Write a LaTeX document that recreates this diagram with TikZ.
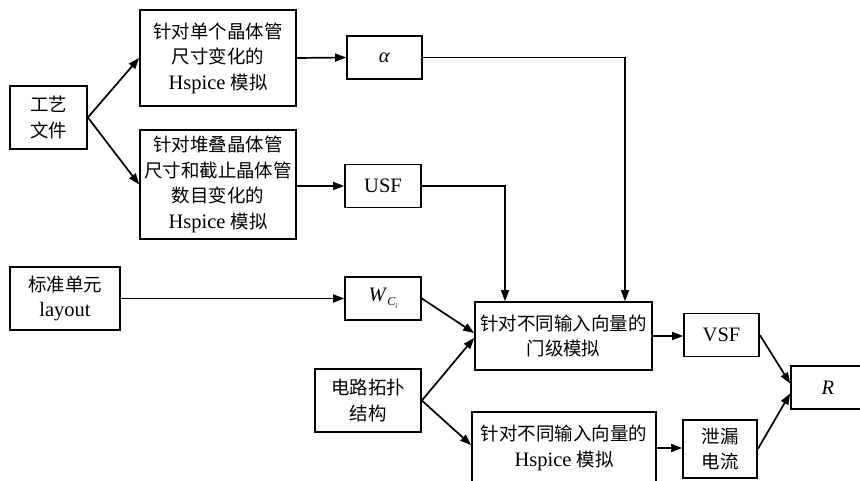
\documentclass[tikz,border=0pt]{standalone}
\usepackage{fontspec}
\setmainfont{Liberation Serif}
\newfontfamily\cjk[Scale=0.9]{Noto Sans CJK SC}
\newcommand\zh[1]{{\cjk #1}}
\usetikzlibrary{arrows.meta}
\begin{document}
\begin{tikzpicture}[x=1pt,y=-1pt,
  box/.style={draw, line width=1.7pt, inner sep=0pt, align=center,
    font=\fontsize{20.5}{25.5}\selectfont},
  arr/.style={-{Triangle[length=11pt,width=8pt]}, line width=1.7pt}]
\useasboundingbox (0,0) rectangle (860,481);
\clip (0,0) rectangle (860,481);
% nodes
\node[box, minimum width=77pt, minimum height=63pt] (gy) at (48.5,117.5) {\zh{工艺}\\\zh{文件}};
\node[box, minimum width=156pt, minimum height=96pt] (b1) at (218,58) {\zh{针对单个晶体管}\\\zh{尺寸变化的}\\Hspice \zh{模拟}};
\node[box, minimum width=156pt, minimum height=109pt] (b2) at (218,184.5) {\zh{针对堆叠晶体管}\\\zh{尺寸和截止晶体管}\\\zh{数目变化的}\\Hspice \zh{模拟}};
\node[box, minimum width=75pt, minimum height=43pt] (al) at (384.5,57.5) {\textit{α}};
\node[box, minimum width=76pt, minimum height=43pt] (usf) at (383,186) {USF};
\node[box, minimum width=110pt, minimum height=63pt] (std) at (65,298.5) {\zh{标准单元}\\layout};
\node[box, minimum width=76pt, minimum height=43pt] (w) at (383,298.5) {\textit{W}\raisebox{-4pt}{\fontsize{12}{12}\selectfont\textit{C}\raisebox{-2.5pt}{\fontsize{7}{7}\selectfont\textit{i}}}};
\node[box, minimum width=106pt, minimum height=63pt] (ckt) at (368,400.5) {\zh{电路拓扑}\\\zh{结构}};
\node[box, minimum width=177pt, minimum height=68pt] (gate) at (563.5,336) {\zh{针对不同输入向量的}\\\zh{门级模拟}};
\node[box, minimum width=75pt, minimum height=43pt] (vsf) at (721.5,335) {VSF};
\node[box, minimum width=74pt, minimum height=43pt] (R) at (828,387.5) {\textit{R}};
\node[box, minimum width=184pt, minimum height=72pt] (hsp) at (564,448) {\zh{针对不同输入向量的}\\Hspice \zh{模拟}};
\node[box, minimum width=74pt, minimum height=58pt] (leak) at (720,449) {\zh{泄漏}\\\zh{电流}};
% connectors
\draw[arr] (gy.east) -- (b1.west);
\draw[arr] (gy.east) -- (b2.west);
\draw[arr] (b1.east) -- (al.west);
\draw[arr] (b2.east|-usf.west) -- (usf.west);
\draw[arr] (al.east) -| ([xshift=61.5pt]gate.north);
\draw[arr] (usf.east) -| ([xshift=-58.5pt]gate.north);
\draw[arr] (std.east) -- (w.west);
\draw[arr] (w.east) -- ([yshift=3pt]gate.west);
\draw[arr] (ckt.east) -- ([yshift=-2pt]gate.west);
\draw[arr] (ckt.east) -- ([yshift=3pt]hsp.west);
\draw[arr] (gate.east) -- (vsf.west|-gate.east);
\draw[arr] (vsf.east) -- ([yshift=4pt]R.west);
\draw[arr] (hsp.east) -- (leak.west|-hsp.east);
\draw[arr] (leak.east) -- ([yshift=-6pt]R.west);
\end{tikzpicture}
\end{document}
